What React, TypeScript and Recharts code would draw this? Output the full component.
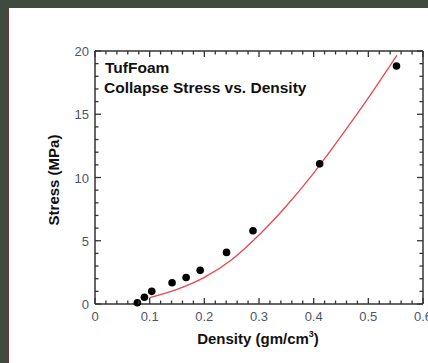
import React from 'react';
import { ComposedChart, XAxis, YAxis, Scatter, Line } from 'recharts';

// Measured collapse stress (MPa) vs density (gm/cm^3)
const densityPoints = [0.0775, 0.0904, 0.1038, 0.141, 0.1667, 0.1924, 0.2406, 0.289, 0.411, 0.5515];
const stressPoints = [0.1, 0.53, 1.0, 1.68, 2.1, 2.66, 4.08, 5.79, 11.08, 18.81];

// Fit curve
const fitDensity = [0.1, 0.15, 0.2, 0.25, 0.3, 0.35, 0.4, 0.45, 0.5, 0.552];
const fitStress = [0.5, 1.15, 2.1, 3.5, 5.45, 7.75, 10.35, 13.25, 16.3, 19.65];

const xMajor = [0, 0.1, 0.2, 0.3, 0.4, 0.5, 0.6];
const xTicks = [0, 0.02, 0.04, 0.06, 0.08, 0.1, 0.12, 0.14, 0.16, 0.18, 0.2, 0.22, 0.24, 0.26, 0.28, 0.3, 0.32, 0.34, 0.36, 0.38, 0.4, 0.42, 0.44, 0.46, 0.48, 0.5, 0.52, 0.54, 0.56, 0.58, 0.6];
const yMajor = [0, 5, 10, 15, 20];
const yTicks = [0, 1, 2, 3, 4, 5, 6, 7, 8, 9, 10, 11, 12, 13, 14, 15, 16, 17, 18, 19, 20];

const points = densityPoints.map((d, i) => ({ density: d, stress: stressPoints[i] }));
const fit = fitDensity.map((d, i) => ({ density: d, stress: fitStress[i] }));

const FRAME = '#333333';
const LABEL = '#4d5663';
const MAJOR_LEN = 6;
const MINOR_LEN = 3.5;

const BottomTick = (props: any) => {
  const { x, y, payload } = props;
  const major = xMajor.includes(payload.value);
  return (
    <g>
      <path d={`M${x},${y}V${y - (major ? MAJOR_LEN : MINOR_LEN)}`} stroke={FRAME} strokeWidth={1.3} fill="none" />
      {major && (
        <text x={x} y={y + 17} textAnchor="middle" fontSize={13} fill={LABEL} fontFamily="Liberation Sans">
          {String(payload.value)}
        </text>
      )}
    </g>
  );
};

const TopTick = (props: any) => {
  const { x, y, payload } = props;
  const major = xMajor.includes(payload.value);
  return (
    <g>
      <path d={`M${x},${y}V${y + (major ? MAJOR_LEN : MINOR_LEN)}`} stroke={FRAME} strokeWidth={1.3} fill="none" />
    </g>
  );
};

const LeftTick = (props: any) => {
  const { x, y, payload } = props;
  const major = yMajor.includes(payload.value);
  return (
    <g>
      <path d={`M${x},${y}H${x + (major ? MAJOR_LEN : MINOR_LEN)}`} stroke={FRAME} strokeWidth={1.3} fill="none" />
      {major && (
        <text x={x - 6} y={y + 5} textAnchor="end" fontSize={13} fill={LABEL} fontFamily="Liberation Sans">
          {String(payload.value)}
        </text>
      )}
    </g>
  );
};

const RightTick = (props: any) => {
  const { x, y, payload } = props;
  const major = yMajor.includes(payload.value);
  return (
    <g>
      <path d={`M${x},${y}H${x - (major ? MAJOR_LEN : MINOR_LEN)}`} stroke={FRAME} strokeWidth={1.3} fill="none" />
    </g>
  );
};

const Dot = (props: any) => <circle cx={props.cx} cy={props.cy} r={3.8} fill="#000" />;

const titleStyle: React.CSSProperties = {
  position: 'absolute',
  fontSize: 15.5,
  fontWeight: 'bold',
  color: '#111',
  lineHeight: '18px',
  whiteSpace: 'nowrap',
  fontFamily: '"Liberation Sans", Arial, sans-serif',
};

export default function App() {
  return (
    <div
      style={{
        position: 'absolute',
        left: 0,
        top: 0,
        width: 428,
        height: 363,
        background: '#fff',
        boxShadow: 'inset 8px 7px 0 0 #3f4b3f, inset 9px 8px 0 0 #6a3636',
      }}
    >
      <ComposedChart width={428} height={363} margin={{ top: 31, right: -15, bottom: 0, left: 0 }}>
        <XAxis
          xAxisId="bottom"
          dataKey="density"
          type="number"
          domain={[0, 0.6]}
          ticks={xTicks}
          interval={0}
          tick={BottomTick}
          tickLine={false}
          tickSize={0}
          tickMargin={0}
          height={59}
          axisLine={{ stroke: FRAME, strokeWidth: 1.5 }}
        />
        <XAxis
          xAxisId="top"
          orientation="top"
          dataKey="density"
          type="number"
          domain={[0, 0.6]}
          ticks={xTicks}
          interval={0}
          tick={TopTick}
          tickLine={false}
          tickSize={0}
          tickMargin={0}
          height={20}
          axisLine={{ stroke: FRAME, strokeWidth: 1.5 }}
        />
        <YAxis
          yAxisId="left"
          type="number"
          domain={[0, 20]}
          ticks={yTicks}
          interval={0}
          tick={LeftTick}
          tickLine={false}
          tickSize={0}
          tickMargin={0}
          width={95}
          axisLine={{ stroke: FRAME, strokeWidth: 1.5 }}
        />
        <YAxis
          yAxisId="right"
          orientation="right"
          type="number"
          domain={[0, 20]}
          ticks={yTicks}
          interval={0}
          tick={RightTick}
          tickLine={false}
          tickSize={0}
          tickMargin={0}
          width={20}
          axisLine={{ stroke: FRAME, strokeWidth: 1.5 }}
        />
        <Line
          xAxisId="bottom"
          yAxisId="left"
          data={fit}
          dataKey="stress"
          type="monotone"
          stroke="#e8474d"
          strokeWidth={1.3}
          dot={false}
          isAnimationActive={false}
        />
        <Scatter
          xAxisId="top"
          yAxisId="right"
          data={points}
          dataKey="stress"
          shape={Dot}
          isAnimationActive={false}
        />
      </ComposedChart>
      <div style={{ ...titleStyle, left: 105, top: 59 }}>TufFoam</div>
      <div style={{ ...titleStyle, left: 104, top: 79 }}>Collapse Stress vs. Density</div>
      <div
        style={{
          ...titleStyle,
          fontSize: 15,
          left: 54,
          top: 180,
          transform: 'translate(-50%, -50%) rotate(-90deg)',
        }}
      >
        Stress (MPa)
      </div>
      <div
        style={{
          ...titleStyle,
          fontSize: 15,
          left: 258,
          top: 339,
          transform: 'translate(-50%, -50%)',
        }}
      >
        Density (gm/cm<sup style={{ fontSize: 9, verticalAlign: 'top', lineHeight: '10px', position: 'relative', top: -1 }}>3</sup>)
      </div>
    </div>
  );
}
